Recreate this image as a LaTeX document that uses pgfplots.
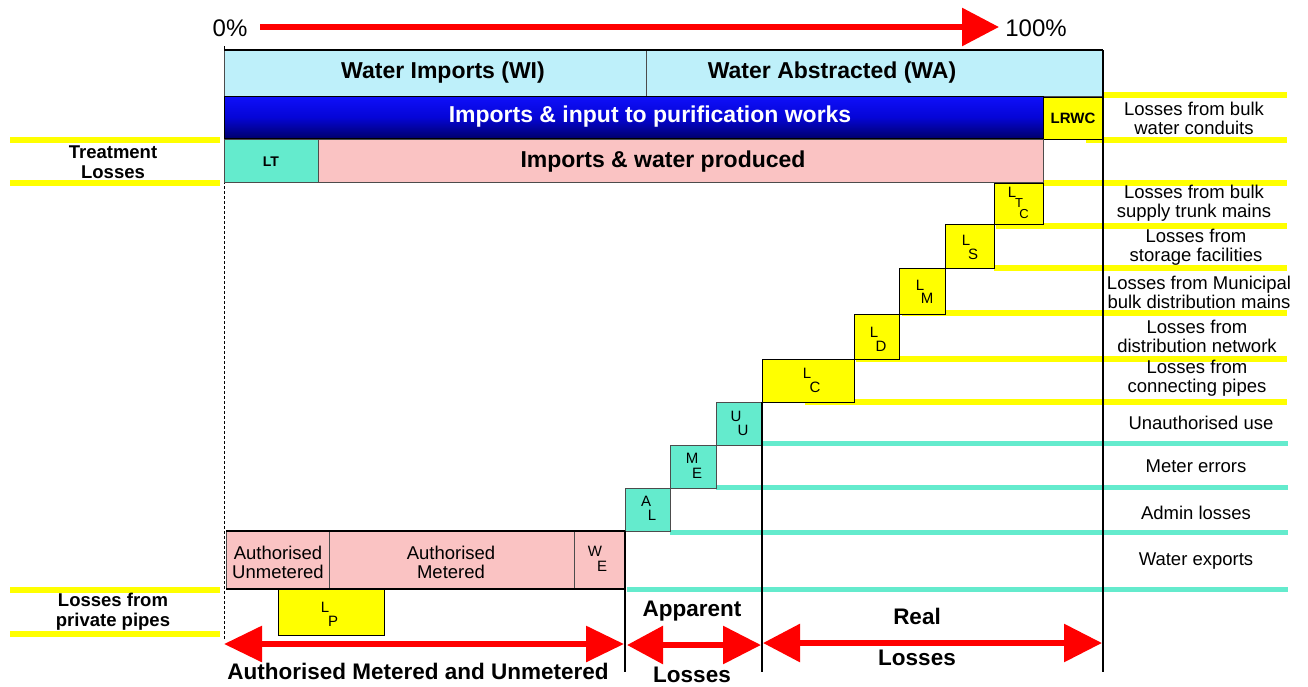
\documentclass[border=0pt]{standalone}
\usepackage{pgfplots}
\pgfplotsset{compat=1.18}
\usepackage{fontspec}
\setmainfont{Liberation Sans}
\usetikzlibrary{arrows.meta}
\definecolor{wcyan}{RGB}{190,240,250}
\definecolor{wgreen}{RGB}{100,235,205}
\definecolor{wpink}{RGB}{250,195,195}
\definecolor{wyel}{RGB}{255,255,0}
\definecolor{wred}{RGB}{255,0,0}
\newcommand{\rbox}[5]{\addplot[#5] coordinates {(#1,#2) (#3,#2) (#3,#4) (#1,#4)} -- cycle;}
\newcommand{\hl}[4]{\addplot[#4] coordinates {(#1,#3) (#2,#3)};}
\begin{document}
\begin{tikzpicture}
\begin{axis}[width=1308pt,height=686pt,scale only axis,
  xmin=0,xmax=1308,ymin=0,ymax=686,y dir=reverse,
  hide axis,clip=false]
\path (axis cs:0,0) rectangle (axis cs:1308,686);
% left yellow lines
\hl{10}{220}{140}{wyel,line width=6pt}
\hl{10}{220}{183}{wyel,line width=6pt}
\hl{10}{220}{590}{wyel,line width=6pt}
\hl{10}{220}{634}{wyel,line width=6pt}
% right yellow lines
\hl{1103}{1287}{95}{wyel,line width=6pt}
\hl{1086}{1287}{140}{wyel,line width=6pt}
\hl{1043}{1287}{183}{wyel,line width=6pt}
\hl{996}{1287}{226}{wyel,line width=6pt}
\hl{994}{1287}{268}{wyel,line width=6pt}
\hl{902}{1287}{313}{wyel,line width=6pt}
\hl{856}{1287}{359}{wyel,line width=6pt}
\hl{805}{1287}{402}{wyel,line width=6pt}
% right cyan-green lines
\hl{762}{1288}{443}{wgreen,line width=5pt}
\hl{716}{1288}{487}{wgreen,line width=5pt}
\hl{670}{1288}{532}{wgreen,line width=5pt}
\hl{627}{1288}{589}{wgreen,line width=5pt}
% left dashed line
\addplot[black,line width=1pt,dash pattern=on 3pt off 2pt] coordinates {(224,46) (224,640)};
% top boxes
\rbox{224}{50}{646}{96}{fill=wcyan,draw=black!70,line width=1pt}
\rbox{646}{50}{1103}{96}{fill=wcyan,draw=black!70,line width=1pt}
\addplot[black,line width=1.2pt] coordinates {(224,50) (1103,50)};
\rbox{224}{96}{1043}{138}{top color={rgb,255:red,15;green,15;blue,250},bottom color={rgb,255:red,0;green,0;blue,110},middle color={rgb,255:red,5;green,5;blue,215},draw=black,line width=1pt}
\rbox{1043}{97}{1103}{139}{fill=wyel,draw=black,line width=1pt}
\rbox{224}{139}{318}{182}{fill=wgreen,draw=black!70,line width=1pt}
\rbox{318}{139}{1043}{182}{fill=wpink,draw=black!70,line width=1pt}
% staircase
\rbox{994}{183}{1043}{224}{fill=wyel,draw=black,line width=1pt}
\rbox{945}{224}{994}{268}{fill=wyel,draw=black,line width=1pt}
\rbox{899}{268}{945}{314}{fill=wyel,draw=black,line width=1pt}
\rbox{854}{314}{899}{359}{fill=wyel,draw=black,line width=1pt}
\rbox{762}{359}{854}{402}{fill=wyel,draw=black,line width=1pt}
\rbox{716}{402}{762}{445}{fill=wgreen,draw=black!70,line width=1pt}
\rbox{670}{445}{716}{488}{fill=wgreen,draw=black!70,line width=1pt}
\rbox{625}{488}{670}{531}{fill=wgreen,draw=black!70,line width=1pt}
% authorised row
\rbox{226}{531}{329}{589}{fill=wpink,draw=black!70,line width=1pt}
\rbox{329}{531}{574}{589}{fill=wpink,draw=black!70,line width=1pt}
\rbox{574}{531}{625}{589}{fill=wpink,draw=black!70,line width=1pt}
\addplot[black,line width=1.2pt] coordinates {(226,531) (625,531)};
\addplot[black,line width=1.2pt] coordinates {(226,589) (625,589)};
\rbox{278}{589}{384}{635}{fill=wyel,draw=black,line width=1pt}
% vertical black lines
\addplot[black,line width=2.5pt] coordinates {(625,531) (625,672)};
\addplot[black,line width=2.5pt] coordinates {(762,402) (762,672)};
\addplot[black,line width=2pt] coordinates {(1103,50) (1103,672)};
% arrows
\addplot[wred,line width=6pt,-{Triangle[length=37pt,width=37pt]}] coordinates {(260,27) (999,27)};
\addplot[wred,line width=6pt,{Triangle[length=38pt,width=35pt]}-{Triangle[length=38pt,width=35pt]}] coordinates {(224,644) (624,644)};
\addplot[wred,line width=6pt,{Triangle[length=36pt,width=37pt]}-{Triangle[length=38pt,width=37pt]}] coordinates {(627,645) (761,645)};
\addplot[wred,line width=6pt,{Triangle[length=37pt,width=37pt]}-{Triangle[length=38pt,width=37pt]}] coordinates {(763,643) (1102,643)};
% texts
\node[font=\fontsize{24}{28}\selectfont] at (axis cs:230,28) {0\%};
\node[font=\fontsize{24}{28}\selectfont] at (axis cs:1036,28) {100\%};
\node[font=\fontsize{23}{27}\selectfont\bfseries] at (axis cs:443,73) {Water Imports (WI)};
\node[font=\fontsize{23}{27}\selectfont\bfseries] at (axis cs:832,73) {Water Abstracted (WA)};
\node[font=\fontsize{23}{27}\selectfont\bfseries,text=white] at (axis cs:650,117) {Imports \& input to purification works};
\node[font=\fontsize{23}{27}\selectfont\bfseries] at (axis cs:663,162) {Imports \& water produced};
\node[font=\fontsize{14}{16}\selectfont\bfseries] at (axis cs:271,162) {LT};
\node[font=\fontsize{15}{17}\selectfont\bfseries] at (axis cs:1073,118) {LRWC};
% right labels
\begin{scope}[every node/.style={font=\fontsize{18.5}{19}\selectfont,align=center}]
\node at (axis cs:1194,118) {Losses from bulk\\water conduits};
\node at (axis cs:1194,203) {Losses from bulk\\supply trunk mains};
\node at (axis cs:1196,247) {Losses from\\storage facilities};
\node at (axis cs:1199,292) {Losses from Municipal\\bulk distribution mains};
\node at (axis cs:1197,336) {Losses from\\distribution network};
\node at (axis cs:1197,378) {Losses from\\connecting pipes};
\node at (axis cs:1201,423) {Unauthorised use};
\node at (axis cs:1196,466) {Meter errors};
\node at (axis cs:1196,513) {Admin losses};
\node at (axis cs:1196,561) {Water exports};
\node at (axis cs:278,562) {Authorised\\Unmetered};
\node at (axis cs:451,562) {Authorised\\Metered};
\end{scope}
\begin{scope}[every node/.style={font=\fontsize{18.5}{20}\selectfont\bfseries,align=center}]
\node at (axis cs:113,162) {Treatment\\Losses};
\node at (axis cs:113,612) {Losses from\\private pipes};
\end{scope}
% sub labels
\begin{scope}[every node/.style={font=\fontsize{15}{17}\selectfont,inner sep=0pt}]
\node at (axis cs:1012,192) {L};\node[font=\fontsize{13}{15}\selectfont] at (axis cs:1019,203) {T};\node[font=\fontsize{13}{15}\selectfont] at (axis cs:1024,214) {C};
\node at (axis cs:966,240) {L};\node at (axis cs:973,254) {S};
\node at (axis cs:920,285) {L};\node at (axis cs:927,298) {M};
\node at (axis cs:874,332) {L};\node at (axis cs:881,346) {D};
\node at (axis cs:807,373) {L};\node at (axis cs:815,387) {C};
\node at (axis cs:736,416) {U};\node at (axis cs:743,430) {U};
\node at (axis cs:692,458) {M};\node at (axis cs:697,473) {E};
\node at (axis cs:646,501) {A};\node at (axis cs:652,515) {L};
\node at (axis cs:595,551) {W};\node at (axis cs:602,566) {E};
\node at (axis cs:325,607) {L};\node at (axis cs:333,621) {P};
\end{scope}
% bottom texts
\begin{scope}[every node/.style={font=\fontsize{22.5}{26}\selectfont\bfseries}]
\node at (axis cs:418,671) {Authorised Metered and Unmetered};
\node at (axis cs:692,611) {Apparent};
\node at (axis cs:692,675) {Losses};
\node at (axis cs:917,616) {Real};
\node at (axis cs:917,658) {Losses};
\end{scope}
\end{axis}
\end{tikzpicture}
\end{document}
